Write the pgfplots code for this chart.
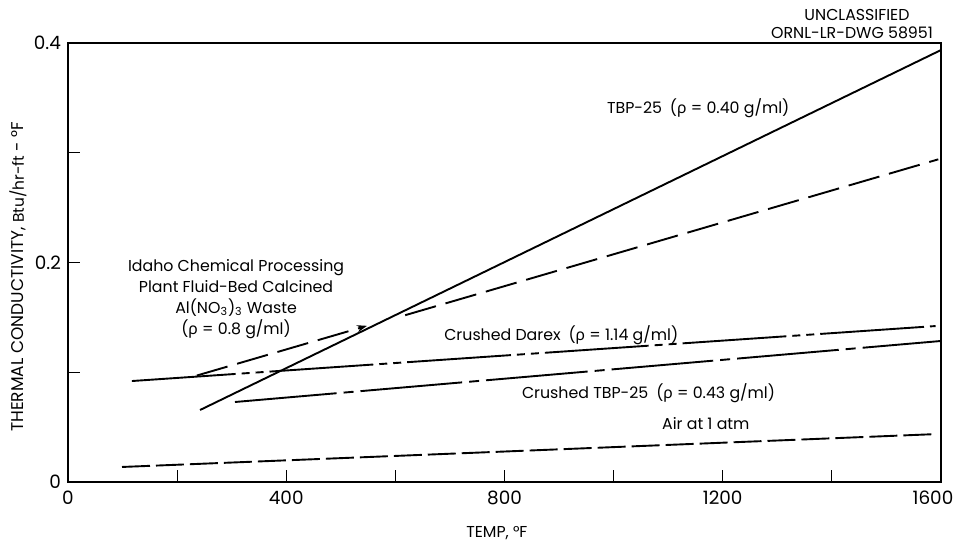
\documentclass[border=0pt]{standalone}
\usepackage{fontspec}
\setmainfont{Poppins}
\newfontfamily\gr{Noto Sans}
\usepackage{pgfplots}
\pgfplotsset{compat=1.18}
\usetikzlibrary{arrows.meta}
\newcommand{\rh}{{\gr ρ}}
\begin{document}
\begin{tikzpicture}
\useasboundingbox (-34pt,-30pt) rectangle (445pt,241pt);
\begin{axis}[
  at={(0,0)}, anchor=south west,
  scale only axis, width=436.5pt, height=219.5pt,
  xmin=0, xmax=1600, ymin=0, ymax=0.4,
  xtick={0,200,...,1600}, xticklabels={0,,400,,800,,1200,,\hspace*{-8pt}1600},
  ytick={0,0.1,0.2,0.3,0.4}, yticklabels={0,,0.2,,0.4},
  xtick pos=bottom, ytick pos=left, tick align=inside,
  major tick length=6pt,
  axis line style={line width=0.6pt},
  tick style={line width=0.6pt, black},
  /pgf/number format/assume math mode=true,
  tick label style={font=\fontsize{9.2}{11}\selectfont},
  xticklabel style={yshift=-1pt},
  clip=false,
  ln/.style={black, line width=0.95pt, mark=none},
]
% TBP-25
\addplot[ln, solid] coordinates {(242,0.0656) (1600,0.3936)};
% Idaho (dashed, with arrow)
\addplot[ln, dash pattern=on 16pt off 5pt, -{Stealth[length=5pt,width=3.5pt]}] coordinates {(236,0.097) (548,0.1423)};
\addplot[ln, dash pattern=on 16pt off 5pt] coordinates {(618,0.152) (1595,0.294)};
% Crushed Darex
\addplot[ln, dash pattern=on 52pt off 3pt on 4pt off 3pt on 4pt off 3pt] coordinates {(117,0.092) (1590,0.1421)};
% Crushed TBP-25
\addplot[ln, dash pattern=on 51pt off 3.5pt on 5pt off 3.5pt] coordinates {(306,0.0729) (1600,0.1285)};
% Air
\addplot[ln, dash pattern=on 14pt off 3pt] coordinates {(99,0.0137) (1593,0.0437)};

\begin{scope}[every node/.style={font=\fontsize{7.9}{10.5}\selectfont}]
\node at (axis cs:1155,0.341) {TBP-25\enspace(\rh\ = 0.40 g/ml)};
\node[align=center] at (axis cs:308,0.167) {Idaho Chemical Processing\\Plant Fluid-Bed Calcined\\Al(NO\textsubscript{3})\textsubscript{3} Waste\\(\rh\ = 0.8 g/ml)};
\node at (axis cs:904,0.134) {Crushed Darex\enspace(\rh\ = 1.14 g/ml)};
\node at (axis cs:1064,0.0811) {Crushed TBP-25\enspace(\rh\ = 0.43 g/ml)};
\node at (axis cs:1169,0.0528) {Air at 1 atm};
\node at (axis cs:1446,0.4255) {UNCLASSIFIED};
\node at (axis cs:1437,0.4092) {ORNL-LR-DWG 58951};
\node at (axis cs:786,-0.0465) {TEMP, °F};
\node[rotate=90, font=\fontsize{8.5}{10}\selectfont] at (axis cs:-91.6,0.187) {THERMAL CONDUCTIVITY, {\fontsize{7.7}{9}\selectfont Btu/hr-ft} - °F};
\end{scope}
\end{axis}
\end{tikzpicture}
\end{document}
